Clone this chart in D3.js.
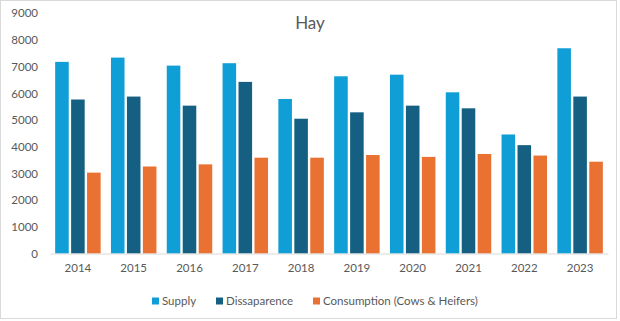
<!DOCTYPE html>
<html>
<head>
<meta charset="utf-8">
<script src="https://cdn.jsdelivr.net/npm/d3@7"></script>
<style>
  body { margin: 0; background: #fff; }
  text { font-family: Lato, "Open Sans", sans-serif; fill: #595959; }
</style>
</head>
<body>
<div id="chart"></div>
<script>
// data
const years = ["2014","2015","2016","2017","2018","2019","2020","2021","2022","2023"];
const supply = [7180, 7340, 7040, 7130, 5790, 6640, 6700, 6040, 4460, 7690];
const dissaparence = [5770, 5880, 5540, 6430, 5050, 5290, 5540, 5440, 4060, 5880];
const consumption = [3030, 3260, 3340, 3590, 3590, 3690, 3620, 3730, 3670, 3440];
const seriesNames = ["Supply", "Dissaparence", "Consumption (Cows & Heifers)"];
const colors = ["#0F9ED5", "#156082", "#E97132"];
const yTicks = [0,1000,2000,3000,4000,5000,6000,7000,8000,9000];

const W = 620, H = 321;
const svg = d3.select("#chart").append("svg").attr("width", W).attr("height", H);

// border
svg.append("rect").attr("x", 0.5).attr("y", 0.5).attr("width", 616).attr("height", 318)
  .attr("fill", "#fff").attr("stroke", "#d9d9d9");

const plotL = 50, plotR = 608, plotT = 13.3, plotB = 253.5;

const x0 = d3.scaleBand().domain(years).range([plotL, plotR]).paddingInner(0.185).paddingOuter(0.0925);
const x1 = d3.scaleBand().domain(d3.range(3)).range([0, x0.bandwidth()]).paddingInner(0.15);
const y = d3.scaleLinear().domain([0, 9000]).range([plotB, plotT]);

const rows = years.map((yr, i) => ({ year: yr, vals: [supply[i], dissaparence[i], consumption[i]] }));

const groups = svg.append("g").selectAll("g").data(rows).join("g")
  .attr("transform", d => `translate(${x0(d.year)},0)`);
groups.selectAll("rect").data(d => d.vals).join("rect")
  .attr("x", (d, i) => x1(i))
  .attr("width", x1.bandwidth())
  .attr("y", d => y(d))
  .attr("height", d => y(0) - y(d))
  .attr("fill", (d, i) => colors[i]);

// y axis labels (no line)
const yAxis = svg.append("g").attr("transform", `translate(${plotL},0)`)
  .call(d3.axisLeft(y).tickValues(yTicks).tickSize(0).tickPadding(12).tickFormat(d3.format("d")));
yAxis.select(".domain").remove();
yAxis.selectAll("text").style("font-size", "11.5px").attr("fill", "#595959");

// x axis
const xAxis = svg.append("g").attr("transform", `translate(0,${plotB})`)
  .call(d3.axisBottom(x0).tickSize(0).tickPadding(10));
xAxis.select(".domain").attr("stroke", "#d9d9d9");
xAxis.selectAll("text").style("font-size", "11.5px").attr("fill", "#595959");

// title
svg.append("text").attr("x", 310).attr("y", 29).attr("text-anchor", "middle")
  .style("font-size", "17px").text("Hay");

// legend
const legendX = [152, 216, 313];
const legend = svg.append("g").selectAll("g").data(seriesNames).join("g")
  .attr("transform", (d, i) => `translate(${legendX[i]},301)`);
legend.append("rect").attr("x", 0).attr("y", -3.5).attr("width", 7).attr("height", 7)
  .attr("fill", (d, i) => colors[i]);
legend.append("text").attr("x", 10).attr("y", 4).style("font-size", "11.5px").text(d => d);
</script>
</body>
</html>
